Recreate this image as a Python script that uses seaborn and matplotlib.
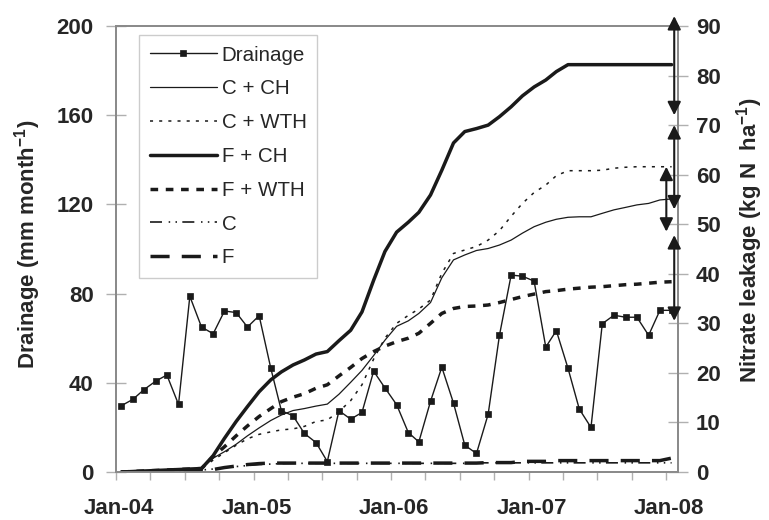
import numpy as np
import pandas as pd
import matplotlib
matplotlib.use("Agg")
import matplotlib.pyplot as plt
import matplotlib.dates as mdates
from matplotlib.transforms import ScaledTranslation
import seaborn as sns

# ---------------- data (monthly, Jan-04 .. Jan-08) ----------------
start_month = "2004-01-01"
n_months = 49

drainage = [29.7, 32.6, 36.9, 40.7, 43.5, 30.3, 78.8, 65.0, 62.0, 72.2, 71.5, 65.0, 70.1,
            46.5, 27.5, 25.2, 17.3, 13.2, 4.7, 27.5, 23.7, 26.7, 45.2, 37.7, 30.2, 17.7,
            13.5, 31.7, 47.0, 30.9, 12.0, 8.3, 25.9, 61.3, 88.3, 87.8, 85.6, 56.0, 63.4,
            46.5, 28.2, 20.0, 66.5, 70.3, 69.4, 69.4, 61.3, 72.5, 72.5]

early = [0.0, 0.1, 0.2, 0.3, 0.4, 0.5, 0.6, 0.7]

c_ch = early + [2.8, 4.1, 5.6, 7.3, 8.9, 10.4, 11.5, 12.4, 12.8,
                13.3, 13.7, 15.7, 18.1, 20.5, 23.5, 26.6, 29.4, 30.5, 32.0, 34.2, 39.2,
                42.8, 43.8, 44.7, 45.1, 45.8, 46.8, 48.2, 49.5, 50.4, 51.0, 51.4, 51.5,
                51.5, 52.2, 52.9, 53.4, 53.9, 54.2, 54.9, 55.1]

c_wth = early + [2.4, 3.9, 5.4, 6.7, 7.6, 8.1, 8.5, 8.7, 9.2,
                 10.2, 10.5, 12.2, 14.4, 17.6, 22.8, 27.0, 30.0, 31.6, 32.9, 34.7, 40.1,
                 44.1, 44.8, 45.5, 46.8, 48.7, 51.6, 54.2, 56.4, 57.9, 59.8, 60.8, 60.8,
                 60.8, 60.9, 61.3, 61.5, 61.6, 61.6, 61.6, 61.6]

f_ch = early + [3.3, 6.8, 10.2, 13.2, 16.2, 18.6, 20.2, 21.6, 22.6,
                23.8, 24.3, 26.5, 28.6, 32.3, 38.7, 44.5, 48.4, 50.4, 52.4, 55.9, 60.9,
                66.4, 68.7, 69.3, 70.0, 71.7, 73.7, 75.9, 77.7, 79.1, 80.8, 82.2, 82.2,
                82.2, 82.2, 82.2, 82.2, 82.2, 82.2, 82.2, 82.2]

f_wth = early + [3.1, 5.1, 7.3, 9.3, 11.2, 12.8, 14.2, 15.1, 15.8,
                 16.9, 17.6, 19.4, 21.1, 22.9, 24.3, 25.4, 26.3, 27.0, 28.0, 30.0, 32.0,
                 33.0, 33.4, 33.5, 33.7, 34.2, 34.8, 35.4, 35.9, 36.4, 36.6, 36.9, 37.1,
                 37.3, 37.4, 37.6, 37.8, 37.9, 38.1, 38.3, 38.4]

c_only = [0.0, 0.05, 0.1, 0.15, 0.2, 0.25, 0.3, 0.4, 0.6, 0.9, 1.1, 1.3, 1.5, 1.6, 1.7,
          1.75, 1.75, 1.75, 1.75, 1.75, 1.75, 1.75, 1.75, 1.75, 1.75, 1.75, 1.75, 1.75,
          1.75, 1.75, 1.75, 1.85, 1.85, 1.85, 1.85, 1.85, 1.85, 1.85, 1.85, 1.85, 1.85,
          1.85, 1.85, 1.85, 1.85, 1.85, 1.85, 1.85, 1.85]

f_only = [0.0, 0.05, 0.1, 0.15, 0.2, 0.25, 0.3, 0.35, 0.5, 0.9, 1.2, 1.5, 1.7, 1.8, 1.8,
          1.8, 1.8, 1.8, 1.8, 1.8, 1.8, 1.8, 1.8, 1.8, 1.8, 1.8, 1.8, 1.8, 1.8, 1.8, 1.8,
          1.8, 1.9, 1.9, 1.9, 2.15, 2.15, 2.15, 2.3, 2.3, 2.3, 2.3, 2.3, 2.3, 2.3, 2.3,
          2.3, 2.3, 2.8]

# range arrows on the right (nitrate axis)
arrow_dates = ["2008-01-22", "2008-01-22", "2008-01-01", "2008-01-22"]
arrow_low = [72.0, 53.0, 48.5, 30.5]
arrow_high = [92.0, 70.0, 61.6, 47.8]

xtick_year_label_fmt = "%b-%y"
left_ticks = [0, 40, 80, 120, 160, 200]
right_ticks = [0, 10, 20, 30, 40, 50, 60, 70, 80, 90]

# ---------------- figure ----------------
sns.set_theme(style="white")
plt.rcParams["font.family"] = ["Liberation Sans", "DejaVu Sans"]
plt.rcParams["font.weight"] = "bold"
plt.rcParams["axes.labelweight"] = "bold"

dates = pd.date_range(start_month, periods=n_months, freq="MS") + pd.Timedelta(days=14)
df = pd.DataFrame({"date": dates, "Drainage": drainage, "C + CH": c_ch, "C + WTH": c_wth,
                   "F + CH": f_ch, "F + WTH": f_wth, "C": c_only, "F": f_only})

fig = plt.figure(figsize=(7.69, 5.20), dpi=100)
ax = fig.add_axes([116 / 769, 48 / 520, 562 / 769, 446 / 520])
ax2 = ax.twinx()

sns.lineplot(data=df, x="date", y="Drainage", ax=ax, color="k", lw=1.0, marker="s",
             markersize=4.6, markeredgecolor="k", markeredgewidth=0.5, label="Drainage")

styles = {
    "C + CH": dict(lw=0.9, linestyle="-"),
    "C + WTH": dict(lw=1.1, linestyle=(0, (2.0, 4.0))),
    "F + CH": dict(lw=2.5, linestyle="-"),
    "F + WTH": dict(lw=2.5, linestyle=(0, (2.2, 2.2))),
    "C": dict(lw=1.2, linestyle=(0, (7.2, 4.0, 0.9, 3.2, 0.9, 3.2))),
    "F": dict(lw=2.5, linestyle=(0, (5.5, 3.5))),
}
for name, st in styles.items():
    sns.lineplot(data=df, x="date", y=name, ax=ax2, color="k", label=name, **st)

for a in (ax, ax2):
    if a.get_legend() is not None:
        a.get_legend().remove()

# arrows
for d, lo, hi in zip(arrow_dates, arrow_low, arrow_high):
    xd = mdates.date2num(pd.Timestamp(d))
    ax2.annotate("", xy=(xd, hi), xytext=(xd, lo),
                 arrowprops=dict(arrowstyle="<|-|>,head_length=0.8,head_width=0.4",
                                 color="k", lw=1.5, shrinkA=0, shrinkB=0,
                                 mutation_scale=10),
                 annotation_clip=False)

# axes limits / ticks
ax.set_xlim(pd.Timestamp("2004-01-01"), pd.Timestamp("2008-02-01"))
ax.xaxis.set_major_locator(mdates.YearLocator())
ax.xaxis.set_major_formatter(mdates.DateFormatter(xtick_year_label_fmt))
ax.xaxis.set_minor_locator(mdates.MonthLocator(bymonth=[4, 7, 10]))
ax.set_ylim(0, 200)
ax.set_yticks(left_ticks)
ax2.set_ylim(0, 90)
ax2.set_yticks(right_ticks)

tick_col = "#b0b0b0"
ax.tick_params(axis="x", which="both", direction="out", length=6, width=1,
               color=tick_col, pad=13, labelsize=16, bottom=True)
ax.tick_params(axis="y", direction="inout", length=14, width=1, color=tick_col,
               pad=9, labelsize=16, left=True)
ax2.tick_params(axis="y", direction="inout", length=14, width=1, color=tick_col,
                pad=6, labelsize=16, right=True)
ax2.tick_params(axis="x", which="both", bottom=False, top=False)

ax.set_xlabel("")
ax2.set_xlabel("")
ax.set_ylabel("Drainage (mm month$\\mathregular{^{-1}}$)", fontsize=16, fontweight="bold")
ax2.set_ylabel("Nitrate leakage (kg N  ha$\\mathregular{^{-1}}$)", fontsize=16,
               fontweight="bold", rotation=90)
ax.yaxis.label.set_verticalalignment("center")
ax2.yaxis.label.set_verticalalignment("center")
ax.yaxis.set_label_coords(-0.157, 0.51)
ax2.yaxis.set_label_coords(1.128, 0.52)

for a in (ax, ax2):
    a.grid(False)
    for s in a.spines.values():
        s.set_visible(True)
        s.set_color("#8a8a8a")
        s.set_linewidth(1.3)

# legend
h1, l1 = ax.get_legend_handles_labels()
h2, l2 = ax2.get_legend_handles_labels()
leg = ax2.legend(h1 + h2, l1 + l2, loc="upper left", bbox_to_anchor=(0.041, 0.980),
                 borderaxespad=0, frameon=True, fancybox=False, framealpha=1,
                 edgecolor="#cccccc", prop={"size": 14.8, "weight": "normal"},
                 handlelength=3.25, handletextpad=0.25, labelspacing=0.72,
                 borderpad=0.52, numpoints=1)
leg.get_frame().set_linewidth(1.0)

fig.canvas.draw()
shift = ScaledTranslation(3 / 100, 0, fig.dpi_scale_trans)
for lab in ax.get_xticklabels():
    lab.set_transform(lab.get_transform() + shift)

fig.savefig("out.png", dpi=100)
